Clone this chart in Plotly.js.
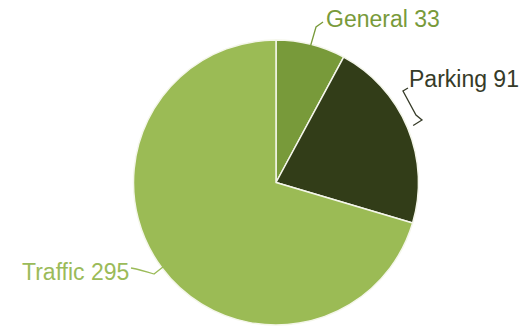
<!DOCTYPE html>
<html><head><meta charset="utf-8">
<script src="https://cdn.plot.ly/plotly-3.0.1.min.js"></script>
<style>html,body{margin:0;padding:0;background:#fff}#chart{width:522px;height:326px}</style>
</head><body><div id="chart"></div>
<script>
const categories = ["General", "Parking", "Traffic"];
const values = [33, 91, 295];
const sliceColors = ["#789A3A", "#323D18", "#9BBB55"];
const labelColors = ["#789A3A", "#363B28", "#9BBB59"];

const W = 522, H = 326;
const cx = 276, cy = 182.5, R = 142.5;
const px = x => x / W;
const py = y => 1 - y / H;

const total = values.reduce((a, b) => a + b, 0);
let acc = 0;
const mids = values.map(v => { const a = (acc + v / 2) / total * 2 * Math.PI; acc += v; return a; });
const edge = (a, r) => [cx + r * Math.sin(a), cy - r * Math.cos(a)];

const trace = {
  type: "pie", labels: categories, values: values, sort: false,
  direction: "clockwise", rotation: 0, textinfo: "none", hoverinfo: "none",
  marker: { colors: sliceColors, line: { color: "#F4F6EA", width: 1.5 } },
  domain: { x: [px(cx - R), px(cx + R)], y: [py(cy + R), py(cy - R)] },
  showlegend: false
};

const font = { family: "Liberation Sans, Arial, sans-serif", size: 23 };
const e0 = edge(mids[0], R - 2), e1 = edge(mids[1], R + 6), e2 = edge(mids[2], R - 3);
const annotations = [
  { x: px(324), y: py(19), xanchor: "left", yanchor: "middle", text: categories[0] + " " + values[0], color: labelColors[0] },
  { x: px(407), y: py(79), xanchor: "left", yanchor: "middle", text: categories[1] + " " + values[1], color: labelColors[1] },
  { x: px(131), y: py(272), xanchor: "right", yanchor: "middle", text: categories[2] + " " + values[2], color: labelColors[2] }
].map(a => ({ xref: "paper", yref: "paper", x: a.x, y: a.y, xanchor: a.xanchor, yanchor: a.yanchor,
  text: a.text, showarrow: false, font: Object.assign({}, font, { color: a.color }) }));

const P = (x, y) => px(x).toFixed(4) + "," + py(y).toFixed(4);
const shapes = [
  { path: `M${P(323,22)} L${P(316,27)} L${P(e0[0], e0[1])}`, color: labelColors[0] },
  { path: `M${P(408,88)} L${P(403,91)} L${P(416,115)} L${P(422,120)} L${P(e1[0], e1[1])}`, color: labelColors[1] },
  { path: `M${P(131,268)} Q${P(141,270)} ${P(154,274)} L${P(e2[0], e2[1])}`, color: labelColors[2] }
].map(s => ({ type: "path", xref: "paper", yref: "paper", path: s.path, line: { color: s.color, width: 1.3 } }));

const layout = {
  width: W, height: H, margin: { l: 0, r: 0, t: 0, b: 0 },
  paper_bgcolor: "#fff", plot_bgcolor: "#fff",
  annotations: annotations, shapes: shapes
};
Plotly.newPlot("chart", [trace], layout, { staticPlot: true, displayModeBar: false });
</script></body></html>
